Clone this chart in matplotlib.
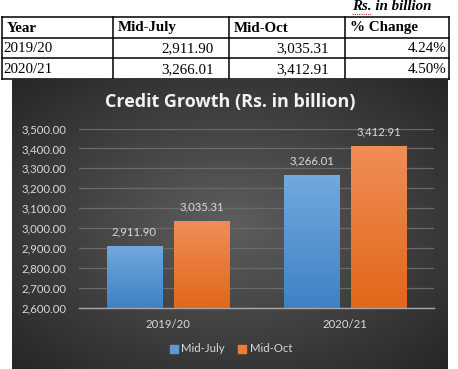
import numpy as np
import matplotlib
matplotlib.use("Agg")
import matplotlib.pyplot as plt
from matplotlib.patches import Rectangle

# ---- data ----
years = ["2019/20", "2020/21"]
mid_july = [2911.90, 3266.01]
mid_oct = [3035.31, 3412.91]
pct_change = [4.24, 4.50]
table_header = ["Year", "Mid-July", "Mid-Oct", "% Change"]
series_names = ["Mid-July", "Mid-Oct"]
title = "Credit Growth (Rs. in billion)"
unit_note = "Rs. in billion"
y_ticks = [2600, 2700, 2800, 2900, 3000, 3100, 3200, 3300, 3400, 3500]

W, H = 458, 369
fig = plt.figure(figsize=(W / 100, H / 100), dpi=100)
fig.patch.set_facecolor("white")

def fx(px):
    return px / W

def fy(py):
    return 1 - py / H

# ---- table (pixel-coordinate overlay) ----
tax = fig.add_axes([0, 0, 1, 1], zorder=0)
tax.set_xlim(0, W)
tax.set_ylim(H, 0)
tax.axis("off")
col_x = [1.5, 112.5, 228.5, 345, 448.5]
row_y = [16.5, 37.5, 58, 78.5]
for x in col_x:
    tax.plot([x, x], [row_y[0], row_y[-1]], color="black", lw=1.1)
for y in row_y:
    tax.plot([col_x[0], col_x[-1]], [y, y], color="black", lw=1.1)
serif = "Liberation Serif"
fs_tab = 10.8
for i, h in enumerate(table_header):
    tax.text(col_x[i] + 5, (row_y[0] + row_y[1]) / 2 + 1, h, family=serif,
             weight="bold", size=fs_tab, ha="left", va="center")
right_edges = [None, 214, 329, 447]
for r in range(len(years)):
    yc = (row_y[r + 1] + row_y[r + 2]) / 2 + 1
    tax.text(col_x[0] + 2, yc, years[r], family=serif, size=fs_tab, ha="left", va="center")
    tax.text(right_edges[1], yc, f"{mid_july[r]:,.2f}", family=serif, size=fs_tab, ha="right", va="center")
    tax.text(right_edges[2], yc, f"{mid_oct[r]:,.2f}", family=serif, size=fs_tab, ha="right", va="center")
    tax.text(right_edges[3], yc, f"{pct_change[r]:.2f}%", family=serif, size=fs_tab, ha="right", va="center")
tax.text(352, 6, unit_note, family=serif, size=fs_tab, weight="bold", style="italic",
         ha="left", va="center")
tax.plot([352, 372], [13.5, 13.5], color="#d03030", lw=0.8, ls=(0, (1, 1)))

# ---- chart background with radial gradient ----
bx0, bx1, by0, by1 = 12, 448, 79, 369
bax = fig.add_axes([fx(bx0), fy(by1), fx(bx1 - bx0), (by1 - by0) / H], zorder=1)
gx, gy = np.meshgrid(np.linspace(-1, 1, 300), np.linspace(-1, 1, 240))
d = np.sqrt((gx * 1.0) ** 2 + (gy * 1.0) ** 2) / np.sqrt(2)
c_in = np.array([0x5e, 0x5e, 0x5e]) / 255
c_out = np.array([0x26, 0x26, 0x26]) / 255
img = c_in[None, None, :] * (1 - d[..., None]) + c_out[None, None, :] * d[..., None]
bax.imshow(img, aspect="auto", extent=[0, 1, 0, 1])
bax.axis("off")

# ---- bar chart ----
ax = fig.add_axes([fx(79), fy(308), fx(434 - 79), (308 - 128.5) / H], zorder=2)
ax.patch.set_alpha(0)
x = np.arange(len(years))
bw = 0.31
off = 0.19
blue_grad = (np.array([0x72, 0xa9, 0xde]) / 255, np.array([0x3d, 0x82, 0xc4]) / 255)
orange_grad = (np.array([0xf1, 0x8d, 0x57]) / 255, np.array([0xe0, 0x68, 0x18]) / 255)
bars1 = ax.bar(x - off, mid_july, bw, color="#5b9bd5", zorder=3, label=series_names[0])
bars2 = ax.bar(x + off, mid_oct, bw, color="#ed7d31", zorder=3, label=series_names[1])

for bars, (ctop, cbot) in [(bars1, blue_grad), (bars2, orange_grad)]:
    for b in bars:
        t = np.linspace(0, 1, 100)[:, None]
        g = ctop[None, None, :] * (1 - t[..., None]) + cbot[None, None, :] * t[..., None]
        g = np.repeat(g, 2, axis=1)
        x0 = b.get_x()
        im = ax.imshow(g, extent=[x0, x0 + b.get_width(), 2600, b.get_height()],
                       aspect="auto", zorder=3.5)
        im.set_clip_path(b)

label_font = "Lato"
fs_lab = 8.2
for bars, vals in [(bars1, mid_july), (bars2, mid_oct)]:
    for b, v in zip(bars, vals):
        ax.annotate(f"{v:,.2f}", (b.get_x() + b.get_width() / 2, v),
                    xytext=(0, 14), textcoords="offset pixels", ha="center", va="center",
                    color="#d9d9d9", family=label_font, size=fs_lab, zorder=5)

ax.set_xlim(-0.5, 1.5)
ax.set_ylim(2600, 3500)
ax.set_yticks(y_ticks)
ax.set_yticklabels([f"{v:,.2f}" for v in y_ticks])
ax.set_xticks(x)
ax.set_xticklabels(years)
ax.grid(axis="y", color="#6a6a6a", lw=0.9, zorder=1)
for s in ["top", "right", "left"]:
    ax.spines[s].set_visible(False)
ax.spines["bottom"].set_color("#a6a6a6")
ax.spines["bottom"].set_linewidth(1)
ax.spines["bottom"].set_zorder(4)
ax.tick_params(axis="both", length=0, colors="#d9d9d9", labelsize=fs_lab)
ax.tick_params(axis="y", pad=9)
ax.tick_params(axis="x", pad=8)
for lab in ax.get_xticklabels() + ax.get_yticklabels():
    lab.set_family(label_font)

fig.text(fx(230), fy(102), title, ha="center", va="center", color="#f2f2f2",
         family="Open Sans", weight="bold", size=13, zorder=5)

handles = [Rectangle((0, 0), 1, 1, color="#5b9bd5"), Rectangle((0, 0), 1, 1, color="#ed7d31")]
leg = fig.legend(handles, series_names, loc="center", bbox_to_anchor=(fx(231), fy(349)),
                 ncol=2, frameon=False, handlelength=0.7, handleheight=0.7,
                 handletextpad=0.3, columnspacing=1.2,
                 prop={"family": label_font, "size": fs_lab})
for t in leg.get_texts():
    t.set_color("#d9d9d9")

fig.savefig("out.png", dpi=100)
